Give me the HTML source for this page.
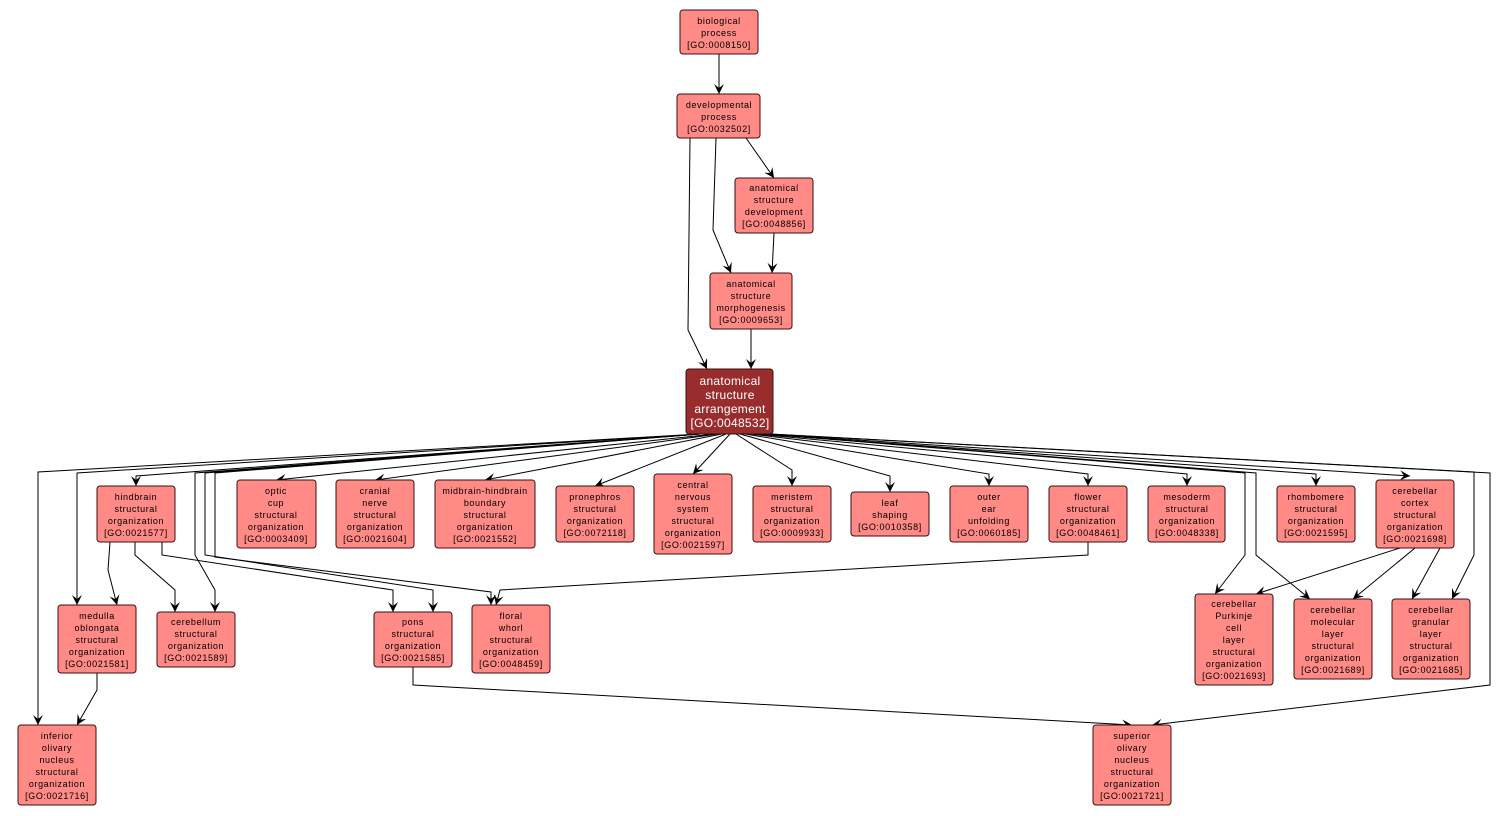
<!DOCTYPE html>
<html><head><meta charset="utf-8"><style>
html,body{margin:0;padding:0;background:#fff;width:1510px;height:816px;overflow:hidden}
svg text{font-family:"Liberation Sans",sans-serif;font-size:9px;letter-spacing:0.6px;fill:#000;text-anchor:middle}
.n{fill:#ff8a86;stroke:#3a1010;stroke-width:1}
.e{fill:none;stroke:#000;stroke-width:1;marker-end:url(#a)}
</style></head><body>
<svg width="1510" height="816" xmlns="http://www.w3.org/2000/svg">
<defs><marker id="a" viewBox="0 0 10 10" refX="10" refY="5" markerWidth="10" markerHeight="10" markerUnits="userSpaceOnUse" orient="auto"><path d="M0,0 L10,5 L0,10 L4,5 z" fill="#000"/></marker></defs>
<g>
<polyline class="e" points="719,54 719,94"/>
<polyline class="e" points="746,138 774,178"/>
<polyline class="e" points="716,138 713,230 731,273"/>
<polyline class="e" points="774,233 772,273"/>
<polyline class="e" points="690,138 688,330 707,369"/>
<polyline class="e" points="751,329 751,369"/>
<polyline class="e" points="700,434 136,476 136,486"/>
<polyline class="e" points="700,434 77,473 77,605"/>
<polyline class="e" points="700,434 38,472 38,725"/>
<polyline class="e" points="700,434 195,473 195,555 215,590 215,612"/>
<polyline class="e" points="700,434 205,473 205,555 433,590 433,612"/>
<polyline class="e" points="700,434 215,473 215,557 491,592 491,605"/>
<polyline class="e" points="162,542 162,555 393,590 393,612"/>
<polyline class="e" points="135,542 135,555 175,590 175,612"/>
<polyline class="e" points="110,542 108,570 117,605"/>
<polyline class="e" points="1088,542 1088,555 500,590 496,605"/>
<polyline class="e" points="97,673 97,690 77,725"/>
<polyline class="e" points="413,667 413,685 1132,725"/>
<polyline class="e" points="715,434 276,480"/>
<polyline class="e" points="718,434 375,480"/>
<polyline class="e" points="722,434 485,480"/>
<polyline class="e" points="726,434 595,486"/>
<polyline class="e" points="730,434 693,474"/>
<polyline class="e" points="736,434 792,470 792,486"/>
<polyline class="e" points="740,434 890,476 890,492"/>
<polyline class="e" points="745,434 989,474 989,486"/>
<polyline class="e" points="750,434 1088,474 1088,486"/>
<polyline class="e" points="755,434 1187,474 1187,486"/>
<polyline class="e" points="760,434 1316,474 1316,486"/>
<polyline class="e" points="765,434 1410,476"/>
<polyline class="e" points="765,434 1245,473 1245,555 1215,594"/>
<polyline class="e" points="765,434 1256,473 1256,555 1310,599"/>
<polyline class="e" points="770,434 1474,472 1474,555 1452,599"/>
<polyline class="e" points="770,434 1490,473 1490,685 1152,725"/>
<polyline class="e" points="1400,548 1256,594"/>
<polyline class="e" points="1415,548 1353,599"/>
<polyline class="e" points="1440,548 1412,599"/>
</g>
<g>
<rect class="n" x="680" y="10" width="78" height="44" rx="3"/><text x="719" y="24">biological</text><text x="719" y="36">process</text><text x="719" y="48">[GO:0008150]</text>
<rect class="n" x="677" y="94" width="83" height="44" rx="3"/><text x="719" y="108">developmental</text><text x="719" y="120">process</text><text x="719" y="132">[GO:0032502]</text>
<rect class="n" x="735" y="178" width="78" height="55" rx="3"/><text x="774" y="191">anatomical</text><text x="774" y="203">structure</text><text x="774" y="215">development</text><text x="774" y="227">[GO:0048856]</text>
<rect class="n" x="710" y="273" width="82" height="56" rx="3"/><text x="751" y="287">anatomical</text><text x="751" y="299">structure</text><text x="751" y="311">morphogenesis</text><text x="751" y="323">[GO:0009653]</text>
<rect x="686" y="369" width="87" height="65" rx="3" fill="#992d2d" stroke="#3a1010"/>
<g style="font-size:12px"><text x="730" y="385" style="fill:#fff;font-size:12px;letter-spacing:0.3px">anatomical</text><text x="730" y="399" style="fill:#fff;font-size:12px;letter-spacing:0.3px">structure</text><text x="730" y="413" style="fill:#fff;font-size:12px;letter-spacing:0.3px">arrangement</text><text x="730" y="427" style="fill:#fff;font-size:12px;letter-spacing:0.3px">[GO:0048532]</text></g>
<rect class="n" x="97" y="486" width="78" height="56" rx="3"/><text x="136" y="500">hindbrain</text><text x="136" y="512">structural</text><text x="136" y="524">organization</text><text x="136" y="536">[GO:0021577]</text>
<rect class="n" x="237" y="480" width="79" height="68" rx="3"/><text x="276" y="494">optic</text><text x="276" y="506">cup</text><text x="276" y="518">structural</text><text x="276" y="530">organization</text><text x="276" y="542">[GO:0003409]</text>
<rect class="n" x="336" y="480" width="78" height="68" rx="3"/><text x="375" y="494">cranial</text><text x="375" y="506">nerve</text><text x="375" y="518">structural</text><text x="375" y="530">organization</text><text x="375" y="542">[GO:0021604]</text>
<rect class="n" x="435" y="480" width="100" height="68" rx="3"/><text x="485" y="494">midbrain-hindbrain</text><text x="485" y="506">boundary</text><text x="485" y="518">structural</text><text x="485" y="530">organization</text><text x="485" y="542">[GO:0021552]</text>
<rect class="n" x="556" y="486" width="78" height="56" rx="3"/><text x="595" y="500">pronephros</text><text x="595" y="512">structural</text><text x="595" y="524">organization</text><text x="595" y="536">[GO:0072118]</text>
<rect class="n" x="654" y="474" width="78" height="80" rx="3"/><text x="693" y="488">central</text><text x="693" y="500">nervous</text><text x="693" y="512">system</text><text x="693" y="524">structural</text><text x="693" y="536">organization</text><text x="693" y="548">[GO:0021597]</text>
<rect class="n" x="753" y="486" width="78" height="56" rx="3"/><text x="792" y="500">meristem</text><text x="792" y="512">structural</text><text x="792" y="524">organization</text><text x="792" y="536">[GO:0009933]</text>
<rect class="n" x="851" y="492" width="78" height="44" rx="3"/><text x="890" y="506">leaf</text><text x="890" y="518">shaping</text><text x="890" y="530">[GO:0010358]</text>
<rect class="n" x="950" y="486" width="78" height="56" rx="3"/><text x="989" y="500">outer</text><text x="989" y="512">ear</text><text x="989" y="524">unfolding</text><text x="989" y="536">[GO:0060185]</text>
<rect class="n" x="1049" y="486" width="78" height="56" rx="3"/><text x="1088" y="500">flower</text><text x="1088" y="512">structural</text><text x="1088" y="524">organization</text><text x="1088" y="536">[GO:0048461]</text>
<rect class="n" x="1148" y="486" width="77" height="56" rx="3"/><text x="1187" y="500">mesoderm</text><text x="1187" y="512">structural</text><text x="1187" y="524">organization</text><text x="1187" y="536">[GO:0048338]</text>
<rect class="n" x="1277" y="486" width="78" height="56" rx="3"/><text x="1316" y="500">rhombomere</text><text x="1316" y="512">structural</text><text x="1316" y="524">organization</text><text x="1316" y="536">[GO:0021595]</text>
<rect class="n" x="1376" y="480" width="78" height="68" rx="3"/><text x="1415" y="494">cerebellar</text><text x="1415" y="506">cortex</text><text x="1415" y="518">structural</text><text x="1415" y="530">organization</text><text x="1415" y="542">[GO:0021698]</text>
<rect class="n" x="58" y="605" width="78" height="68" rx="3"/><text x="97" y="619">medulla</text><text x="97" y="631">oblongata</text><text x="97" y="643">structural</text><text x="97" y="655">organization</text><text x="97" y="667">[GO:0021581]</text>
<rect class="n" x="157" y="612" width="78" height="55" rx="3"/><text x="196" y="625">cerebellum</text><text x="196" y="637">structural</text><text x="196" y="649">organization</text><text x="196" y="661">[GO:0021589]</text>
<rect class="n" x="374" y="612" width="78" height="55" rx="3"/><text x="413" y="625">pons</text><text x="413" y="637">structural</text><text x="413" y="649">organization</text><text x="413" y="661">[GO:0021585]</text>
<rect class="n" x="472" y="605" width="78" height="68" rx="3"/><text x="511" y="619">floral</text><text x="511" y="631">whorl</text><text x="511" y="643">structural</text><text x="511" y="655">organization</text><text x="511" y="667">[GO:0048459]</text>
<rect class="n" x="1195" y="594" width="78" height="91" rx="3"/><text x="1234" y="607">cerebellar</text><text x="1234" y="619">Purkinje</text><text x="1234" y="631">cell</text><text x="1234" y="643">layer</text><text x="1234" y="655">structural</text><text x="1234" y="667">organization</text><text x="1234" y="679">[GO:0021693]</text>
<rect class="n" x="1294" y="599" width="78" height="80" rx="3"/><text x="1333" y="613">cerebellar</text><text x="1333" y="625">molecular</text><text x="1333" y="637">layer</text><text x="1333" y="649">structural</text><text x="1333" y="661">organization</text><text x="1333" y="673">[GO:0021689]</text>
<rect class="n" x="1392" y="599" width="78" height="80" rx="3"/><text x="1431" y="613">cerebellar</text><text x="1431" y="625">granular</text><text x="1431" y="637">layer</text><text x="1431" y="649">structural</text><text x="1431" y="661">organization</text><text x="1431" y="673">[GO:0021685]</text>
<rect class="n" x="18" y="725" width="78" height="80" rx="3"/><text x="57" y="739">inferior</text><text x="57" y="751">olivary</text><text x="57" y="763">nucleus</text><text x="57" y="775">structural</text><text x="57" y="787">organization</text><text x="57" y="799">[GO:0021716]</text>
<rect class="n" x="1093" y="725" width="78" height="80" rx="3"/><text x="1132" y="739">superior</text><text x="1132" y="751">olivary</text><text x="1132" y="763">nucleus</text><text x="1132" y="775">structural</text><text x="1132" y="787">organization</text><text x="1132" y="799">[GO:0021721]</text>
</g>
</svg>
</body></html>
